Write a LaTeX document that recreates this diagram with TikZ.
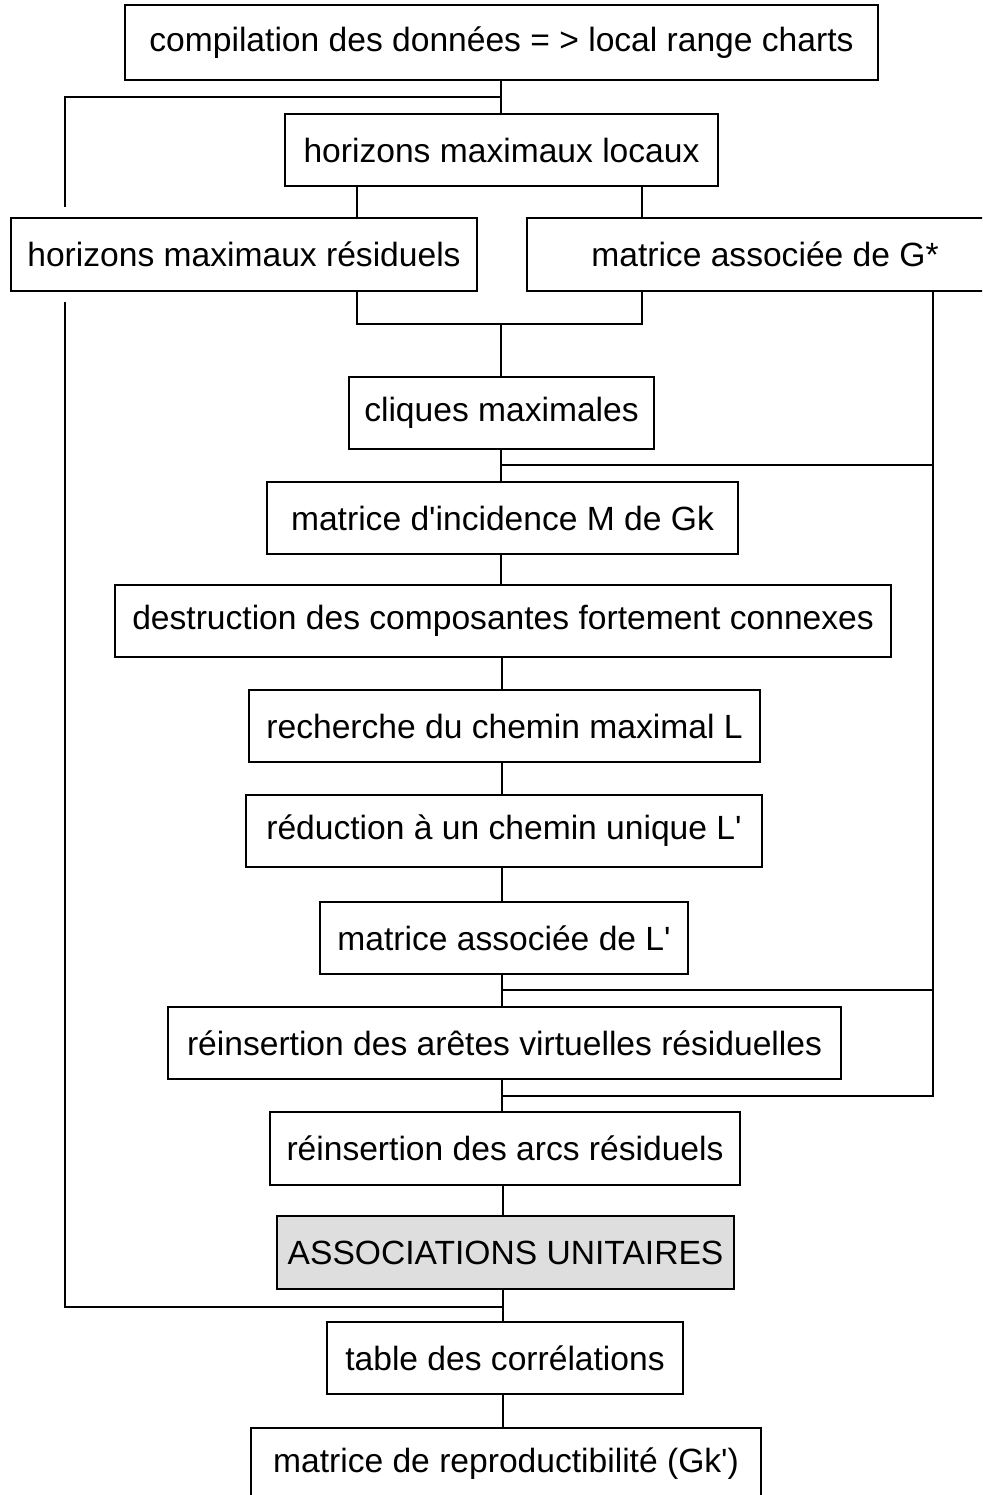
\documentclass[tikz,border=0pt]{standalone}
\usepackage{fontspec}
\setmainfont{Liberation Sans}
\begin{document}
\begin{tikzpicture}[x=1pt,y=-1pt,
  box/.style={draw,line width=2.6pt,fill=white,inner sep=0pt,minimum height=72pt,
    font=\fontsize{33.6}{40}\selectfont,anchor=center},
  conn/.style={line width=1.8pt},
  shaded/.style={fill=black!13}]
\fill[white] (0,0) rectangle (982,1495);
\useasboundingbox (0,0) rectangle (982,1495);
\clip (0,0) rectangle (982,1495);

\node[box,minimum width=753pt,minimum height=75pt] (b1) at (501.5,42.5) {compilation des données = > local range charts};
\node[box,minimum width=433pt] (b2) at (501.5,150) {horizons maximaux locaux};
\node[box,minimum width=466pt,minimum height=73pt] (b3) at (244,254.5) {horizons maximaux résiduels};
\node[box,minimum width=476pt,minimum height=73pt] (b4) at (765,254.5) {matrice associée de G*};
\node[box,minimum width=305pt] (b5) at (501.5,413) {cliques maximales};
\node[box,minimum width=471pt] (b6) at (502.5,518) {matrice d\textquotesingle incidence M de Gk};
\node[box,minimum width=776pt] (b7) at (503,621) {destruction des composantes fortement connexes};
\node[box,minimum width=511pt] (b8) at (504.5,726) {recherche du chemin maximal L};
\node[box,minimum width=516pt] (b9) at (504,831) {réduction à un chemin unique L\textquotesingle};
\node[box,minimum width=368pt] (b10) at (504,938) {matrice associée de L\textquotesingle};
\node[box,minimum width=673pt] (b11) at (504.5,1043) {réinsertion des arêtes virtuelles résiduelles};
\node[box,minimum width=470pt,minimum height=73pt] (b12) at (505,1148.5) {réinsertion des arcs résiduels};
\node[box,shaded,minimum width=457pt,minimum height=73pt] (b13) at (505.5,1252.5) {ASSOCIATIONS UNITAIRES};
\node[box,minimum width=356pt] (b14) at (505,1358) {table des corrélations};
\node[box,minimum width=510pt] (b15) at (506,1464) {matrice de reproductibilité (Gk\textquotesingle)};

% helper coordinates
\coordinate (xl) at (357,0);
\coordinate (xr) at (642,0);
\coordinate (xL) at (65,0);
\coordinate (xR) at (933,0);
\coordinate (j1) at (501,97);
\coordinate (j2) at (501,324);
\coordinate (j3) at (501,465);
\coordinate (j4) at (502,990);
\coordinate (j5) at (502,1096);
\coordinate (j6) at (503,1307);
\coordinate (lt) at (65,207);
\coordinate (lb) at (65,302);

% top
\draw[conn] (b1.south -| j1) -- (b2.north -| j1);
\draw[conn] (j1) -- (j1 -| xL) -- (lt);
\draw[conn] (b2.south -| xl) -- (b3.north -| xl);
\draw[conn] (b2.south -| xr) -- (b3.north -| xr);
% merge below b3/b4
\draw[conn] (b3.south -| xl) -- (j2 -| xl) -- (j2 -| xr) -- (b4.south -| xr);
\draw[conn] (j2) -- (b5.north -| j2);
% spine
\draw[conn] (b5.south -| j3) -- (b6.north -| j3);
\draw[conn] (b6.south -| j3) -- (b7.north -| j3);
\draw[conn] (b7.south -| j4) -- (b8.north -| j4);
\draw[conn] (b8.south -| j4) -- (b9.north -| j4);
\draw[conn] (b9.south -| j4) -- (b10.north -| j4);
\draw[conn] (b10.south -| j4) -- (b11.north -| j4);
\draw[conn] (b11.south -| j5) -- (b12.north -| j5);
\draw[conn] (b12.south -| j6) -- (b13.north -| j6);
\draw[conn] (b13.south -| j6) -- (b14.north -| j6);
\draw[conn] (b14.south -| j6) -- (b15.north -| j6);
% right feedback line
\draw[conn] (b4.south -| xR) -- (j5 -| xR) -- (j5);
\draw[conn] (j3) -- (j3 -| xR);
\draw[conn] (j4) -- (j4 -| xR);
% left feedback line
\draw[conn] (lb) -- (j6 -| xL) -- (j6);
\end{tikzpicture}
\end{document}
